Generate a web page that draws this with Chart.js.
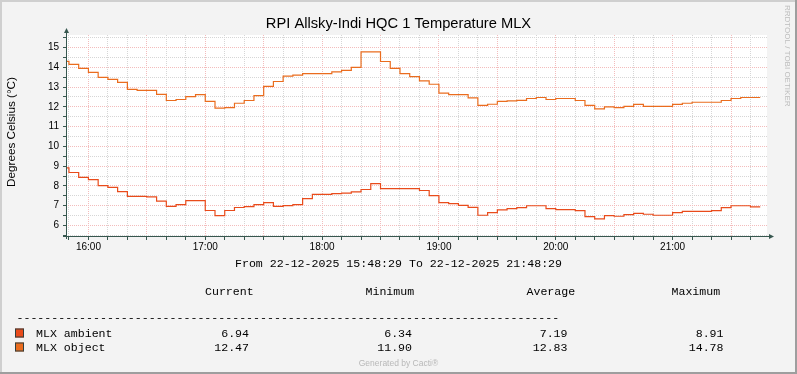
<!DOCTYPE html>
<html>
<head>
<meta charset="utf-8">
<script src="https://cdn.jsdelivr.net/npm/chart.js@4/dist/chart.umd.min.js"></script>
<style>
html, body { margin: 0; padding: 0; background: #f3f3f3; }
#graph { display: block; }
</style>
</head>
<body>
<canvas id="graph" width="797" height="374"></canvas>
<script>
// 5 minute rrd steps, each value holds from its start time until the next one
const sampleTimes = [
  '15:45','15:50','15:55','16:00','16:05','16:10','16:15','16:20','16:25','16:30','16:35','16:40',
  '16:45','16:50','16:55','17:00','17:05','17:10','17:15','17:20','17:25','17:30','17:35','17:40',
  '17:45','17:50','17:55','18:00','18:05','18:10','18:15','18:20','18:25','18:30','18:35','18:40',
  '18:45','18:50','18:55','19:00','19:05','19:10','19:15','19:20','19:25','19:30','19:35','19:40',
  '19:45','19:50','19:55','20:00','20:05','20:10','20:15','20:20','20:25','20:30','20:35','20:40',
  '20:45','20:50','20:55','21:00','21:05','21:10','21:15','21:20','21:25','21:30','21:35','21:40',
  '21:45'
];

const mlxAmbient = [
  8.91, 8.68, 8.43, 8.32, 8.02, 7.93, 7.71, 7.47, 7.47, 7.45, 7.23, 6.97,
  7.06, 7.26, 7.26, 6.76, 6.50, 6.76, 6.91, 6.96, 7.06, 7.16, 6.97, 7.01,
  7.06, 7.36, 7.57, 7.57, 7.61, 7.64, 7.70, 7.82, 8.12, 7.87, 7.87, 7.87,
  7.87, 7.77, 7.51, 7.16, 7.11, 7.02, 6.92, 6.52, 6.65, 6.79, 6.85, 6.90,
  7.00, 7.00, 6.85, 6.80, 6.80, 6.75, 6.45, 6.34, 6.50, 6.47, 6.55, 6.61,
  6.57, 6.52, 6.52, 6.65, 6.72, 6.72, 6.72, 6.75, 6.90, 7.00, 7.00, 6.94
];

const mlxObject = [
  14.30, 14.15, 13.94, 13.74, 13.49, 13.39, 13.24, 12.88, 12.83, 12.83, 12.63, 12.32,
  12.37, 12.52, 12.62, 12.28, 11.93, 11.96, 12.18, 12.32, 12.57, 13.03, 13.28, 13.55,
  13.60, 13.68, 13.68, 13.68, 13.77, 13.84, 13.99, 14.78, 14.78, 14.29, 13.94, 13.68,
  13.53, 13.31, 13.14, 12.69, 12.62, 12.62, 12.45, 12.07, 12.13, 12.28, 12.30, 12.33,
  12.42, 12.47, 12.37, 12.42, 12.42, 12.32, 12.07, 11.90, 12.00, 11.96, 12.02, 12.12,
  12.02, 12.02, 12.02, 12.12, 12.18, 12.23, 12.23, 12.23, 12.32, 12.42, 12.47, 12.47
];

const xTickLabels = ['16:00', '17:00', '18:00', '19:00', '20:00', '21:00'];
const yTickLabels = ['6', '7', '8', '9', '10', '11', '12', '13', '14', '15'];

const titleText = 'RPI Allsky-Indi HQC 1 Temperature MLX';
const yAxisTitle = 'Degrees Celsius (\u00b0C)';
const periodStart = '15:48:29';
const periodEnd = '21:48:29';
const periodText = 'From 22-12-2025 15:48:29 To 22-12-2025 21:48:29';

const legendNames = ['MLX ambient', 'MLX object'];
const legendColors = ['#e94b1b', '#ea6c1e'];
const statCurrent = ['6.94', '12.47'];
const statMinimum = ['6.34', '11.90'];
const statAverage = ['7.19', '12.83'];
const statMaximum = ['8.91', '14.78'];

const axisColor = '#37574f';
const majorGrid = '#f3bcbc';
const minorGrid = '#d6d6d6';

function toMinutes(s) {
  const p = s.split(':').map(Number);
  return p[0] * 60 + p[1] + (p[2] || 0) / 60;
}

function hhmm(m) {
  const h = Math.floor(m / 60), mm = Math.round(m % 60);
  return String(h).padStart(2, '0') + ':' + String(mm).padStart(2, '0');
}

// step points, last value repeated at the closing time
function stepPoints(values) {
  const pts = values.map((v, i) => ({ x: toMinutes(sampleTimes[i]), y: v }));
  pts.push({ x: toMinutes(sampleTimes[values.length]), y: values[values.length - 1] });
  return pts;
}

const rrdDecor = {
  id: 'rrdDecor',
  beforeDraw(chart) {
    const { ctx, chartArea: a } = chart;
    ctx.save();
    ctx.fillStyle = '#f3f3f3';
    ctx.fillRect(0, 0, chart.width, chart.height);
    ctx.fillStyle = '#ffffff';
    ctx.fillRect(a.left, a.top, a.right - a.left, a.bottom - a.top);
    ctx.restore();
  },
  afterDraw(chart) {
    const { ctx, chartArea: a } = chart;
    const W = chart.width, H = chart.height;
    ctx.save();

    // frame
    ctx.fillStyle = '#cfcfcf';
    ctx.fillRect(0, 0, W, 2);
    ctx.fillRect(0, 0, 2, H);
    ctx.fillStyle = '#9e9e9e';
    ctx.fillRect(0, H - 2, W, 2);
    ctx.fillRect(W - 2, 0, 2, H);

    // title, centred on the whole image like rrdtool does
    ctx.font = '14.7px "Liberation Sans"';
    ctx.fillStyle = '#000000';
    ctx.textAlign = 'center';
    ctx.textBaseline = 'alphabetic';
    ctx.fillText(titleText, 398.5, 27.8);

    // vertical axis title
    ctx.save();
    ctx.translate(15.2, 132);
    ctx.rotate(-Math.PI / 2);
    ctx.font = '11.7px "Liberation Sans"';
    ctx.textAlign = 'center';
    ctx.fillText(yAxisTitle, 0, 0);
    ctx.restore();

    // axes with arrows
    ctx.strokeStyle = axisColor;
    ctx.fillStyle = axisColor;
    ctx.lineWidth = 1;
    ctx.beginPath();
    ctx.moveTo(a.left + 0.5, a.bottom + 2);
    ctx.lineTo(a.left + 0.5, a.top - 2);
    ctx.moveTo(a.left - 3, a.bottom - 0.5);
    ctx.lineTo(a.right + 2, a.bottom - 0.5);
    ctx.stroke();
    ctx.beginPath();
    ctx.moveTo(a.left - 2, a.top - 2);
    ctx.lineTo(a.left + 3, a.top - 2);
    ctx.lineTo(a.left + 0.5, a.top - 7);
    ctx.closePath();
    ctx.fill();
    ctx.beginPath();
    ctx.moveTo(a.right + 2, a.bottom - 3);
    ctx.lineTo(a.right + 2, a.bottom + 2);
    ctx.lineTo(a.right + 7, a.bottom - 0.5);
    ctx.closePath();
    ctx.fill();

    // watermark
    ctx.save();
    ctx.translate(787.5, 5);
    ctx.rotate(Math.PI / 2);
    ctx.font = '8px "Liberation Sans"';
    ctx.fillStyle = '#bdbdbd';
    ctx.textAlign = 'left';
    ctx.textBaseline = 'middle';
    ctx.fillText('RRDTOOL / TOBI OETIKER', 0, 0);
    ctx.restore();

    // legend block
    ctx.font = '11.6px "Liberation Mono"';
    ctx.fillStyle = '#000000';
    ctx.textBaseline = 'alphabetic';
    ctx.textAlign = 'center';
    ctx.fillText(periodText, 398.5, 266.5);

    ctx.textAlign = 'left';
    ctx.fillText('Current', 205, 295);
    ctx.fillText('Minimum', 365.5, 295);
    ctx.fillText('Average', 526.5, 295);
    ctx.fillText('Maximum', 671.5, 295);
    ctx.fillText('-'.repeat(78), 16.5, 321);

    legendNames.forEach((name, i) => {
      const base = 336.5 + i * 14;
      ctx.fillStyle = legendColors[i];
      ctx.fillRect(15, base - 8, 9, 9);
      ctx.strokeStyle = '#2f3f3f';
      ctx.strokeRect(15.5, base - 7.5, 8, 8);
      ctx.fillStyle = '#000000';
      ctx.textAlign = 'left';
      ctx.fillText(name, 36, base);
      ctx.textAlign = 'right';
      ctx.fillText(statCurrent[i], 249, base);
      ctx.fillText(statMinimum[i], 412, base);
      ctx.fillText(statAverage[i], 567.5, base);
      ctx.fillText(statMaximum[i], 723.5, base);
    });

    ctx.font = '8.5px "Liberation Sans"';
    ctx.fillStyle = '#b8b8b8';
    ctx.textAlign = 'center';
    ctx.fillText('Generated by Cacti\u00ae', 398.5, 366);
    ctx.restore();
  }
};

Chart.defaults.font.family = '"Liberation Sans", Arial, sans-serif';
Chart.defaults.color = '#000000';

const ctx = document.getElementById('graph').getContext('2d');
const chart = new Chart(ctx, {
  type: 'line',
  data: {
    datasets: [{
      label: legendNames[0],
      data: stepPoints(mlxAmbient),
      borderColor: legendColors[0],
      borderWidth: 1.2,
      stepped: true,
      pointRadius: 0,
      fill: false
    }, {
      label: legendNames[1],
      data: stepPoints(mlxObject),
      borderColor: legendColors[1],
      borderWidth: 1.2,
      stepped: true,
      pointRadius: 0,
      fill: false
    }]
  },
  options: {
    responsive: false,
    devicePixelRatio: 1,
    animation: false,
    layout: { autoPadding: false, padding: { left: 0, top: 35, right: 30, bottom: 117 } },
    plugins: {
      legend: { display: false },
      tooltip: { enabled: false },
      title: { display: false }
    },
    scales: {
      x: {
        type: 'linear',
        min: toMinutes(periodStart),
        max: toMinutes(periodEnd),
        afterBuildTicks: (scale) => {
          const t = [];
          for (let m = 950; m <= 1300; m += 10) t.push({ value: m });
          scale.ticks = t;
        },
        afterFit: (scale) => { scale.height = 20; },
        border: { display: false, dash: [1, 1] },
        grid: {
          color: (c) => (c.tick && c.tick.value % 30 === 0) ? majorGrid : minorGrid,
          tickColor: axisColor,
          tickLength: 3,
          lineWidth: 1
        },
        ticks: {
          autoSkip: false,
          maxRotation: 0,
          padding: 1,
          font: { size: 10 },
          callback: (v) => xTickLabels.includes(hhmm(v)) ? hhmm(v) : ''
        }
      },
      y: {
        min: 5.42,
        max: 15.63,
        afterBuildTicks: (scale) => {
          const t = [];
          for (let v = 5.5; v <= 15.5; v += 0.5) t.push({ value: v });
          scale.ticks = t;
        },
        afterFit: (scale) => { scale.width = 66; },
        border: { display: false, dash: [1, 1] },
        grid: {
          color: (c) => (c.tick && Number.isInteger(c.tick.value)) ? majorGrid : minorGrid,
          tickColor: axisColor,
          tickLength: 3,
          lineWidth: 1
        },
        ticks: {
          autoSkip: false,
          padding: 4,
          font: { size: 10 },
          callback: (v) => yTickLabels.includes(String(v)) ? String(v) : ''
        }
      }
    }
  },
  plugins: [rrdDecor]
});
</script>
</body>
</html>
